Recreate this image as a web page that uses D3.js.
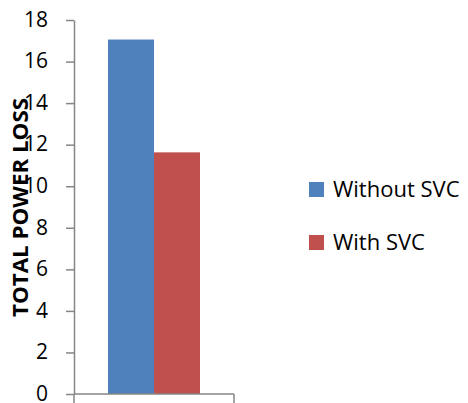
<!DOCTYPE html>
<html>
<head>
<meta charset="utf-8">
<script src="https://cdn.jsdelivr.net/npm/d3@7"></script>
<style>
  body { margin: 0; background: #fff; }
  svg { display: block; font-family: "Open Sans", sans-serif; }
</style>
</head>
<body>
<div id="chart"></div>
<script>
// chart data
var categories = [""];
var series = ["Without SVC", "With SVC"];
var values = [17.06, 11.63];
var colors = ["#4f81bd", "#c0504d"];
var yTicks = [0, 2, 4, 6, 8, 10, 12, 14, 16, 18];
var yTitle = "TOTAL POWER LOSS";

var width = 468, height = 403;
var margin = {top: 20, left: 74, plotRight: 234, bottom: 394};

var svg = d3.select("#chart").append("svg")
    .attr("width", width)
    .attr("height", height);

var y = d3.scaleLinear().domain([0, 18]).range([margin.bottom, margin.top]);

var x0 = d3.scaleBand().domain(categories)
    .range([margin.left, margin.plotRight])
    .paddingInner(0).paddingOuter(0);

var x1 = d3.scaleBand().domain(series)
    .range([0, x0.bandwidth()])
    .paddingInner(0).paddingOuter(0.739);

var axisColor = "#868686";

// y axis
var yAxis = svg.append("g")
    .attr("transform", "translate(" + margin.left + ",0)")
    .call(d3.axisLeft(y).tickValues(yTicks).tickSize(8).tickPadding(18).tickSizeOuter(0));
yAxis.select(".domain").attr("stroke", axisColor).attr("stroke-width", 1.5);
yAxis.selectAll(".tick line").attr("stroke", axisColor).attr("stroke-width", 1.5);
yAxis.selectAll(".tick text")
    .attr("fill", "#000")
    .attr("dy", "0.3em")
    .style("font-size", "21px")
    .style("font-family", "'Open Sans', sans-serif");

// bars
svg.append("g").selectAll("rect")
  .data(series.map(function (s, i) { return {cat: categories[0], s: s, v: values[i], c: colors[i]}; }))
  .enter().append("rect")
    .attr("x", function (d) { return x0(d.cat) + x1(d.s); })
    .attr("y", function (d) { return y(d.v); })
    .attr("width", x1.bandwidth())
    .attr("height", function (d) { return y(0) - y(d.v); })
    .attr("fill", function (d) { return d.c; });

// x axis
var xAxis = svg.append("g")
    .attr("transform", "translate(0," + margin.bottom + ")");
xAxis.append("line")
    .attr("x1", margin.left).attr("x2", margin.plotRight)
    .attr("stroke", axisColor).attr("stroke-width", 1.5);
xAxis.selectAll(".xt")
  .data([margin.left, margin.plotRight])
  .enter().append("line")
    .attr("x1", function (d) { return d; }).attr("x2", function (d) { return d; })
    .attr("y1", 0).attr("y2", 9)
    .attr("stroke", axisColor).attr("stroke-width", 1.5);

// y title
svg.append("text")
    .attr("transform", "translate(28,207.5) rotate(-90)")
    .attr("text-anchor", "middle")
    .attr("textLength", 219)
    .attr("lengthAdjust", "spacingAndGlyphs")
    .style("font-weight", "bold")
    .style("font-size", "22px")
    .text(yTitle);

// legend
var legend = svg.append("g").selectAll("g")
  .data(series)
  .enter().append("g")
    .attr("transform", function (d, i) { return "translate(309," + (182 + i * 53) + ")"; });
legend.append("rect")
    .attr("width", 15).attr("height", 15)
    .attr("fill", function (d, i) { return colors[i]; });
legend.append("text")
    .attr("x", 24).attr("y", 15)
    .style("font-size", "22px")
    .text(function (d) { return d; });
</script>
</body>
</html>
